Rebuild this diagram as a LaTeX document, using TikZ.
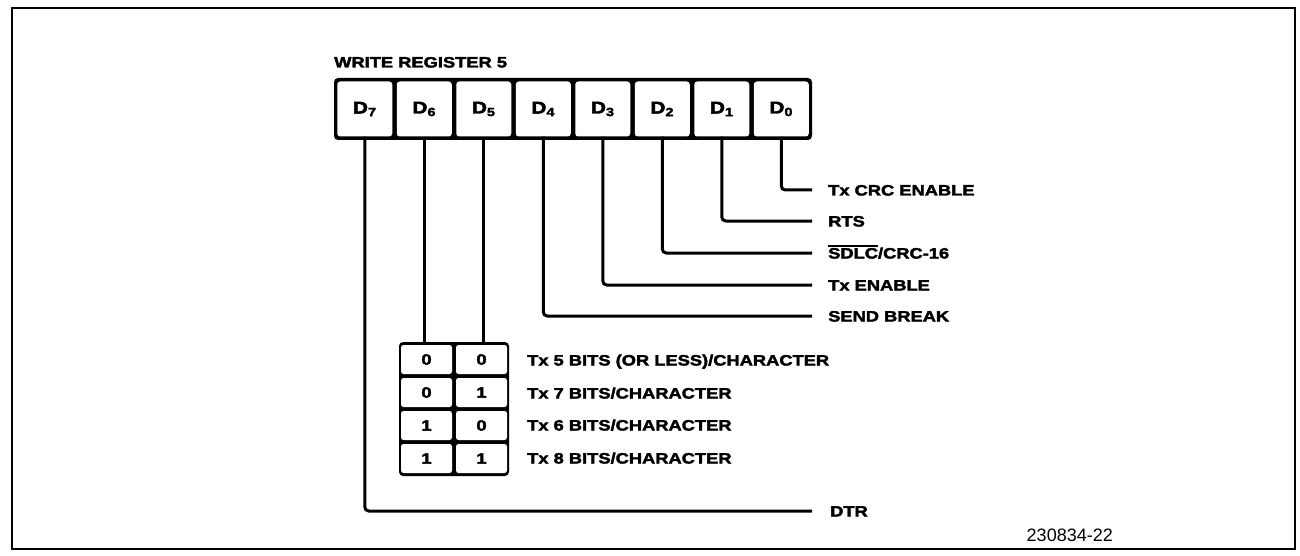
\documentclass[tikz,border=0pt]{standalone}
\usepackage{fontspec}
\setmainfont{Liberation Sans}
\newfontfamily\lbl[FakeStretch=1.22,BoldFeatures={FakeBold=2.5}]{Liberation Sans}
\newcommand{\ovbar}[1]{\leavevmode\vbox{\hrule height 1.4pt\kern1.3pt\hbox{#1}}}
\begin{document}
\begin{tikzpicture}[x=1pt,y=-1pt,
  txt/.style={font={\lbl\bfseries\fontsize{15}{18}\selectfont}, inner sep=0pt, text height=11pt, text depth=0pt, anchor=west},
  lead/.style={line width=3pt, rounded corners=4pt},
  regbox/.style={fill=black, rounded corners=4pt, minimum width=478pt, minimum height=62pt, inner sep=0pt},
  cellr/.style={fill=white, rounded corners=3pt, minimum width=55pt, minimum height=55pt, inner sep=0pt, font={\lbl\bfseries\fontsize{17}{19}\selectfont}},
  sbox/.style={fill=black, rounded corners=4pt, minimum width=110pt, minimum height=134pt, inner sep=0pt},
  scell/.style={fill=white, rounded corners=2.5pt, minimum width=51pt, minimum height=29pt, inner sep=0pt, font={\lbl\bfseries\fontsize{15}{17}\selectfont}}
]
\useasboundingbox (0,0) rectangle (1300,556);
\draw[line width=2pt] (12,8) rectangle (1295,549);

\node[txt] (title) at (334,62) {WRITE REGISTER 5};

\node[regbox] (reg) at (573,109) {};
\foreach \i/\b in {0/7,1/6,2/5,3/4,4/3,5/2,6/1,7/0}
  \node[cellr] (d\b) at ({335+59.5*(\i+0.5)},109) {D\textsubscript{\b}};

% labels
\node[txt] (l0) at (828,190) {Tx CRC ENABLE};
\node[txt] (l1) at (828,221) {RTS};
\node[txt] (l2) at (828,253) {\ovbar{SDLC}/CRC-16};
\node[txt] (l3) at (828,285) {Tx ENABLE};
\node[txt] (l4) at (828,316) {SEND BREAK};
\node[txt] (l7) at (830,511) {DTR};

\draw[lead] (d0.south) |- ([xshift=-16pt]l0.west);
\draw[lead] (d1.south) |- ([xshift=-16pt]l1.west);
\draw[lead] (d2.south) |- ([xshift=-16pt]l2.west);
\draw[lead] (d3.south) |- ([xshift=-16pt]l3.west);
\draw[lead] (d4.south) |- ([xshift=-16pt]l4.west);
\draw[lead] (d7.south) |- ([xshift=-18pt]l7.west);

% small table
\node[sbox] (sb) at (454,409) {};
\foreach \r/\a/\c in {0/0/0,1/0/1,2/1/0,3/1/1}{
  \node[scell] (a\r) at (426.5,{359.5+33*\r}) {\a};
  \node[scell] (b\r) at (481.5,{359.5+33*\r}) {\c};
}
\draw[lead] (d6.south) -- (d6.south |- sb.north);
\draw[lead] (d5.south) -- (d5.south |- sb.north);

\node[txt] (r0) at (527,360) {Tx 5 BITS (OR LESS)/CHARACTER};
\node[txt] (r1) at (527,393) {Tx 7 BITS/CHARACTER};
\node[txt] (r2) at (527,425) {Tx 6 BITS/CHARACTER};
\node[txt] (r3) at (527,458) {Tx 8 BITS/CHARACTER};

\node[anchor=east, inner sep=0pt, font=\fontsize{18}{20}\selectfont] (num) at (1113,535) {230834-22};
\end{tikzpicture}
\end{document}
